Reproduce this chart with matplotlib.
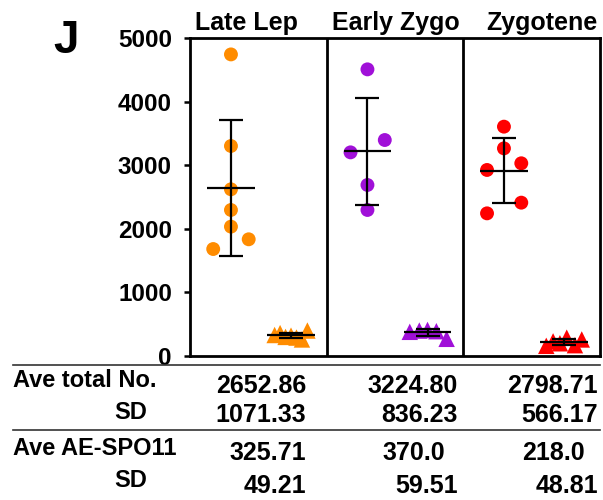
import matplotlib.pyplot as plt
from matplotlib.lines import Line2D
import numpy as np

plt.rcParams['font.family'] = ['Liberation Sans', 'DejaVu Sans']
plt.rcParams['font.weight'] = 'bold'

# data
stages = ["Late Lep", "Early Zygo", "Zygotene"]
colors = ["#FF8C00", "#A010D8", "#FF0000"]

total_late_lep = [4742, 3302, 2621, 2296, 2034, 1835, 1682]
total_early_zygo = [4507, 3396, 3202, 2689, 2296]
total_zygotene = [3606, 3265, 3030, 2925, 2411, 2243]

ae_late_lep = [330, 360, 300, 320, 290, 260, 400]
ae_early_zygo = [380, 400, 410, 390, 270]
ae_zygotene = [160, 230, 200, 288, 170, 260]

yticks = [0, 1000, 2000, 3000, 4000, 5000]

row_labels = ["Ave total No.", "SD", "Ave AE-SPO11", "SD"]
ave_total = ["2652.86", "3224.80", "2798.71"]
sd_total = ["1071.33", "836.23", "566.17"]
ave_ae = ["325.71", "370.0", "218.0"]
sd_ae = ["49.21", "59.51", "48.81"]

# layout (horizontal spread of points inside each column)
circle_jit = [
    [0, 0, 0, 0, 0, 0.13, -0.13],
    [0, 0.127, -0.124, 0, 0],
    [0, 0, 0.127, -0.124, 0.127, -0.124],
]
tri_jit = [
    [-0.12, -0.08, -0.04, 0.0, 0.04, 0.08, 0.12],
    [-0.13, -0.06, 0.0, 0.065, 0.14],
    [-0.13, -0.08, -0.03, 0.02, 0.08, 0.13],
]

totals = [total_late_lep, total_early_zygo, total_zygotene]
aes = [ae_late_lep, ae_early_zygo, ae_zygotene]

W, H = 603, 500
fig = plt.figure(figsize=(W / 100, H / 100), dpi=100)
ax = fig.add_axes([190 / W, 1 - 356 / H, 409.5 / W, 318 / H])


def summary(ax, xc, vals):
    m = np.mean(vals)
    sd = np.std(vals, ddof=1)
    ax.errorbar(xc, m, yerr=sd, fmt='none', ecolor='black', elinewidth=1.6,
                capsize=8.5, capthick=1.6, zorder=4)
    ax.hlines(m, xc - 0.175, xc + 0.175, color='black', lw=1.6, zorder=4)


for i in range(3):
    xc = i + 0.3
    xs = [xc + j for j in circle_jit[i]]
    ax.scatter(xs, totals[i], s=100, marker='o', color=colors[i],
               edgecolors='none', zorder=3)
    summary(ax, xc, totals[i])

    xt = i + 0.74
    xs = [xt + j for j in tri_jit[i]]
    ax.scatter(xs, aes[i], s=140, marker='^', color=colors[i],
               edgecolors='none', zorder=3)
    summary(ax, xt, aes[i])

for xv in [1, 2]:
    ax.axvline(xv, color='black', lw=2)

ax.set_xlim(0, 3)
ax.set_ylim(0, 5000)
ax.set_yticks(yticks)
ax.set_xticks([])
ax.tick_params(axis='y', direction='out', length=4, width=1.8, pad=9,
               labelsize=17.5)
for sp in ax.spines.values():
    sp.set_linewidth(2)
    sp.set_color('black')

title_x = [0.41, 1.507, 2.575]
for i, name in enumerate(stages):
    ax.text(title_x[i], 1 + 8 / 318, name, transform=ax.get_xaxis_transform(),
            ha='center', va='baseline', fontsize=18, fontweight='bold')

fig.text(53 / W, 1 - 53 / H, "J", fontsize=33, fontweight='bold',
         ha='left', va='baseline')

# table under the plot
def fy(y):
    return 1 - y / H

for yy in [365, 430]:
    fig.add_artist(Line2D([13 / W, 600 / W], [fy(yy), fy(yy)],
                          color='#333333', lw=1.2))

label_y = [387, 419, 455, 487]
label_x = [13, 147, 13, 147]
label_ha = ['left', 'right', 'left', 'right']
for lab, y, x, ha in zip(row_labels, label_y, label_x, label_ha):
    fig.text(x / W, fy(y), lab, ha=ha, va='baseline', fontsize=17,
             fontweight='bold')

value_y = [393, 422, 460, 493]
col_right = [306, 458, 598]
for row, y in zip([ave_total, sd_total, ave_ae, sd_ae], value_y):
    for j, s in enumerate(row):
        x = col_right[j]
        if s.endswith('.0'):
            x -= 13
        fig.text(x / W, fy(y), s, ha='right', va='baseline', fontsize=18,
                 fontweight='bold')

fig.savefig("out.png", dpi=100)
